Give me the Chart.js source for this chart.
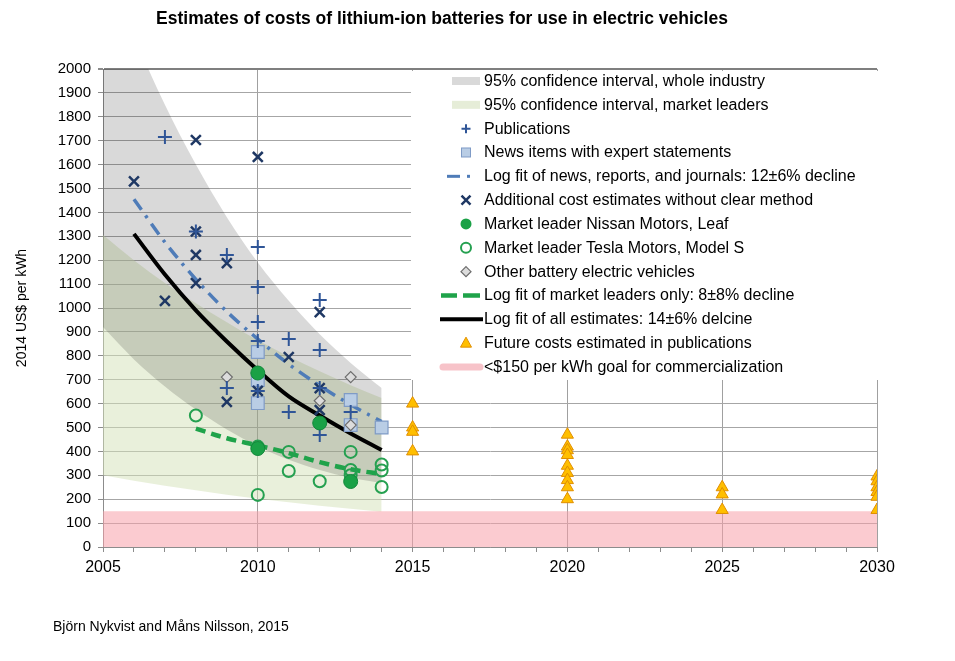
<!DOCTYPE html>
<html><head><meta charset="utf-8">
<script src="https://cdn.jsdelivr.net/npm/chart.js@4.4.0/dist/chart.umd.min.js"></script>
<style>
html,body{margin:0;padding:0;background:#fff;}
#wrap{position:relative;width:955px;height:661px;font-family:"Liberation Sans",Arial,sans-serif;color:#000;overflow:hidden;}
#c{position:absolute;left:0;top:0;}
#title{position:absolute;left:0;width:884px;top:8px;text-align:center;font-weight:bold;font-size:17.5px;line-height:20px;}
#foot{position:absolute;left:53px;top:617px;font-size:14px;line-height:18px;}
#legend{position:absolute;left:411px;top:71px;width:468px;height:309px;background:#fff;}
#legsym{position:absolute;left:0;top:0;}
.li{position:absolute;left:73px;font-size:16px;line-height:24px;height:24px;white-space:nowrap;}
</style></head>
<body><div id="wrap">
<canvas id="c" width="955" height="661"></canvas>
<div id="title">Estimates of costs of lithium-ion batteries for use in electric vehicles</div>
<div id="legend"><canvas id="legsym" width="468" height="309"></canvas></div>
<div id="foot">Björn Nykvist and Måns Nilsson, 2015</div>
</div>
<script>
// ---------- data ----------
const bandYears = [2005,2006,2007,2008,2009,2010,2011,2012,2013,2014];
const industryUpper = [2480,2140,1850,1600,1380,1190,1030,890,770,665];
const industryLower = [920,785,672,575,492,422,365,322,290,268];
const leadersUpper = [1305,1200,1105,1020,940,865,797,735,677,623];
const leadersLower = [300,277,256,237,219,202,187,173,160,148];

const pubYears  = [2007,2008,2009,2009,2010,2010,2010,2010,2010,2011,2011,2012,2012,2012,2012,2013];
const pubValues = [1715,1320,1222,665,1255,1088,941,862,653,870,565,1033,824,665,469,565];

const newsYears  = [2010,2010,2010,2013,2013,2014];
const newsValues = [816,699,602,615,510,500];

const addYears  = [2006,2007,2008,2008,2008,2008,2009,2009,2010,2010,2011,2012,2012,2012];
const addValues = [1530,1030,1703,1320,1222,1104,1188,607,1632,653,795,983,665,573];

const nissanYears  = [2010,2010,2012,2013];
const nissanValues = [728,412,519,274];

const teslaYears  = [2008,2010,2010,2011,2011,2012,2013,2013,2013,2014,2014,2014];
const teslaValues = [550,420,218,398,318,275,398,322,300,345,320,251];

const otherYears  = [2009,2012,2013,2013];
const otherValues = [711,612,711,510];

const futureYears  = [2015,2015,2015,2015,2020,2020,2020,2020,2020,2020,2020,2020,2020,2025,2025,2025,2030,2030,2030,2030,2030,2030];
const futureValues = [600,500,482,400,470,420,405,385,340,310,280,250,200,250,220,155,295,275,250,230,210,155];

const fitYears = [2006,2007,2008,2009,2010,2011,2012,2013,2014];
const newsFit  = [1455,1275,1120,985,870,765,675,595,525];
const allFit   = [1310,1140,990,860,740,630,550,475,406];
const leaderFitYears = [2008,2009,2010,2011,2012,2013,2014];
const leaderFit      = [495,455,425,393,355,325,305];

const goalYears  = [2005,2030];
const goalValues = [150,150];

const xLabelYears = [2005,2010,2015,2020,2025,2030];

const legendLabels = [
  "95% confidence interval, whole industry",
  "95% confidence interval, market leaders",
  "Publications",
  "News items with expert statements",
  "Log fit of news, reports, and journals: 12±6% decline",
  "Additional cost estimates without clear method",
  "Market leader Nissan Motors, Leaf",
  "Market leader Tesla Motors, Model S",
  "Other battery electric vehicles",
  "Log fit of market leaders only: 8±8% decline",
  "Log fit of all estimates: 14±6% delcine",
  "Future costs estimated in publications",
  "<$150 per kWh goal for commercialization"
];

// ---------- colours ----------
const C = {
  pub:'#2f5597', add:'#1f3864', newsFill:'#b9cde5', newsBorder:'#7f9bc6',
  newsFit:'#4f7cb8', nissan:'#1aa146', nissanBorder:'#12873a', tesla:'#25a050',
  otherFill:'#dcdcdc', otherBorder:'#6d6d6d', leaderFit:'#1fa34a', allFit:'#000',
  futFill:'#ffbf00', futBorder:'#e08e00',
  industry:'rgba(0,0,0,0.15)', leaders:'rgba(212,226,184,0.5)', goal:'rgba(248,160,170,0.55)'
};
const FONT = '"Liberation Sans", Arial, sans-serif';
const pts = (xs, ys) => xs.map((x, i) => ({x: x, y: ys[i]}));

const marker = (label, xs, ys, style, order) => Object.assign({label, data: pts(xs, ys), showLine:false, order}, style);
const line = (label, xs, ys, style, order) => Object.assign({label, data: pts(xs, ys), showLine:true, pointRadius:0, order, cubicInterpolationMode:'monotone'}, style);

const datasets = [
  marker('Future', futureYears, futureValues, {pointStyle:'triangle', pointRadius:7, pointBackgroundColor:C.futFill, pointBorderColor:C.futBorder, pointBorderWidth:1}, 1),
  marker('Nissan', nissanYears, nissanValues, {pointStyle:'circle', pointRadius:7, pointBackgroundColor:C.nissan, pointBorderColor:C.nissanBorder, pointBorderWidth:1}, 2),
  marker('Tesla', teslaYears, teslaValues, {pointStyle:'circle', pointRadius:6, pointBackgroundColor:'rgba(0,0,0,0)', pointBorderColor:C.tesla, pointBorderWidth:2}, 3),
  marker('Publications', pubYears, pubValues, {pointStyle:'cross', pointRadius:7, pointBorderColor:C.pub, pointBorderWidth:2}, 4),
  marker('Additional', addYears, addValues, {pointStyle:'crossRot', pointRadius:7, pointBorderColor:C.add, pointBorderWidth:2.5}, 5),
  marker('Other', otherYears, otherValues, {pointStyle:'rectRot', pointRadius:5.5, pointBackgroundColor:C.otherFill, pointBorderColor:C.otherBorder, pointBorderWidth:1.2}, 6),
  marker('News', newsYears, newsValues, {pointStyle:'rect', pointRadius:9, pointBackgroundColor:C.newsFill, pointBorderColor:C.newsBorder, pointBorderWidth:1.2}, 7),
  line('All fit', fitYears, allFit, {borderColor:C.allFit, borderWidth:4}, 8),
  line('News fit', fitYears, newsFit, {borderColor:C.newsFit, borderWidth:3.5, borderDash:[13,7,3,7]}, 9),
  line('Leader fit', leaderFitYears, leaderFit, {borderColor:C.leaderFit, borderWidth:4.5, borderDash:[10,6]}, 10),
  line('Goal', goalYears, goalValues, {borderWidth:0, borderColor:'rgba(0,0,0,0)', backgroundColor:C.goal, fill:'origin', cubicInterpolationMode:'default'}, 11),
  line('Industry upper', bandYears, industryUpper, {borderWidth:0, borderColor:'rgba(0,0,0,0)', backgroundColor:C.industry, fill:'+1'}, 12),
  line('Industry lower', bandYears, industryLower, {borderWidth:0, borderColor:'rgba(0,0,0,0)', fill:false}, 13),
  line('Leaders upper', bandYears, leadersUpper, {borderWidth:0, borderColor:'rgba(0,0,0,0)', backgroundColor:C.leaders, fill:'+1'}, 14),
  line('Leaders lower', bandYears, leadersLower, {borderWidth:0, borderColor:'rgba(0,0,0,0)', fill:false}, 15)
];

new Chart(document.getElementById('c'), {
  type: 'scatter',
  data: {datasets},
  options: {
    responsive:false, animation:false, events:[],
    layout:{padding:{top:69, right:78, left:0, bottom:0}},
    plugins:{legend:{display:false}, tooltip:{enabled:false}, title:{display:false}},
    scales:{
      x:{
        type:'linear', min:2005, max:2030,
        afterFit(s){ s.height = 114; },
        afterBuildTicks(s){ const t=[]; for(let v=2005; v<=2030; v++) t.push({value:v}); s.ticks = t; },
        ticks:{autoSkip:false, maxRotation:0, padding:6, color:'#000', font:{size:16, family:FONT},
               callback:(v)=> xLabelYears.includes(v) ? String(v) : ''},
        grid:{color:(ctx)=> (ctx.tick && xLabelYears.includes(ctx.tick.value)) ? '#a0a0a0' : 'rgba(0,0,0,0)',
              tickColor:'#8c8c8c', tickLength:5, lineWidth:1},
        border:{color:'#8c8c8c', width:1}
      },
      y:{
        min:0, max:2000,
        afterFit(s){ s.width = 103; },
        afterBuildTicks(s){ const t=[]; for(let v=0; v<=2000; v+=100) t.push({value:v}); s.ticks = t; },
        ticks:{autoSkip:false, padding:7, color:'#000', font:{size:15, family:FONT}, callback:(v)=> String(v)},
        grid:{color:(ctx)=> ctx.tick && ctx.tick.value===2000 ? '#7f7f7f' : '#a6a6a6',
              lineWidth:(ctx)=> ctx.tick && ctx.tick.value===2000 ? 2 : 1,
              tickColor:'#8c8c8c', tickLength:5},
        border:{color:'#8c8c8c', width:1},
        title:{display:true, text:'2014 US$ per kWh', color:'#000', font:{size:14, family:FONT}, padding:{top:14, bottom:0}}
      }
    }
  }
});

// ---------- legend ----------
(function(){
  const box = document.getElementById('legend');
  const cv = document.getElementById('legsym');
  const g = cv.getContext('2d');
  const ox = 411, oy = 71;
  const rowY = (i) => 81 + i * 23.83;
  legendLabels.forEach((t, i) => {
    const d = document.createElement('div');
    d.className = 'li';
    d.style.top = (rowY(i) - 12 - oy) + 'px';
    d.textContent = t;
    box.appendChild(d);
  });
  const X = (x) => x - ox, Y = (i) => rowY(i) - oy;
  const cx = X(466);
  // 0 industry band
  g.fillStyle = '#d9d9d9'; g.fillRect(X(452), Y(0)-4, 28, 8);
  // 1 leaders band
  g.fillStyle = '#e6edd8'; g.fillRect(X(452), Y(1)-4, 28, 8);
  // 2 plus
  g.strokeStyle = C.pub; g.lineWidth = 2; g.beginPath();
  g.moveTo(cx-4.5, Y(2)); g.lineTo(cx+4.5, Y(2)); g.moveTo(cx, Y(2)-4.5); g.lineTo(cx, Y(2)+4.5); g.stroke();
  // 3 square
  g.fillStyle = C.newsFill; g.strokeStyle = C.newsBorder; g.lineWidth = 1;
  g.fillRect(cx-4.5, Y(3)-4.5, 9, 9); g.strokeRect(cx-4.5, Y(3)-4.5, 9, 9);
  // 4 dash-dot
  g.strokeStyle = C.newsFit; g.lineWidth = 3; g.beginPath();
  g.moveTo(X(447), Y(4)); g.lineTo(X(460), Y(4)); g.stroke();
  g.fillStyle = C.newsFit; g.fillRect(X(467), Y(4)-1.5, 3, 3);
  // 5 x
  g.strokeStyle = C.add; g.lineWidth = 2.5; g.beginPath();
  g.moveTo(cx-4.5, Y(5)-4.5); g.lineTo(cx+4.5, Y(5)+4.5); g.moveTo(cx+4.5, Y(5)-4.5); g.lineTo(cx-4.5, Y(5)+4.5); g.stroke();
  // 6 filled circle
  g.fillStyle = C.nissan; g.beginPath(); g.arc(cx, Y(6), 5.5, 0, Math.PI*2); g.fill();
  // 7 open circle
  g.strokeStyle = C.tesla; g.lineWidth = 2; g.beginPath(); g.arc(cx, Y(7), 5, 0, Math.PI*2); g.stroke();
  // 8 diamond
  g.fillStyle = C.otherFill; g.strokeStyle = C.otherBorder; g.lineWidth = 1.2; g.beginPath();
  g.moveTo(cx, Y(8)-5); g.lineTo(cx+5, Y(8)); g.lineTo(cx, Y(8)+5); g.lineTo(cx-5, Y(8)); g.closePath(); g.fill(); g.stroke();
  // 9 green dashes
  g.strokeStyle = C.leaderFit; g.lineWidth = 4.5; g.beginPath();
  g.moveTo(X(441), Y(9)); g.lineTo(X(457), Y(9)); g.moveTo(X(463), Y(9)); g.lineTo(X(480), Y(9)); g.stroke();
  // 10 black line
  g.strokeStyle = '#000'; g.lineWidth = 4; g.beginPath(); g.moveTo(X(440), Y(10)); g.lineTo(X(483), Y(10)); g.stroke();
  // 11 triangle
  g.fillStyle = C.futFill; g.strokeStyle = C.futBorder; g.lineWidth = 1; g.beginPath();
  g.moveTo(cx, Y(11)-6); g.lineTo(cx+5.5, Y(11)+4); g.lineTo(cx-5.5, Y(11)+4); g.closePath(); g.fill(); g.stroke();
  // 12 pink line
  g.strokeStyle = '#f7c3c9'; g.lineWidth = 7; g.lineCap = 'round'; g.beginPath();
  g.moveTo(X(443), Y(12)); g.lineTo(X(480), Y(12)); g.stroke();
})();
</script>
</body></html>
